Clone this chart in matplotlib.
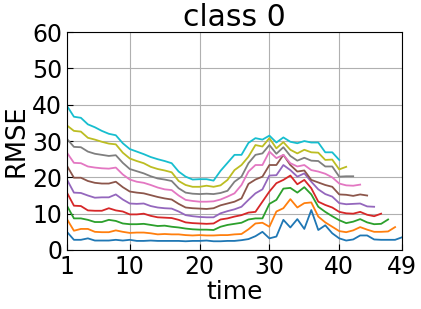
import numpy as np
import matplotlib
matplotlib.use('Agg')
import matplotlib.pyplot as plt

# RMSE per time step, one series per horizon (shorter horizons run longer)
rmse_blue = [5.0, 2.8, 2.8, 3.2, 2.6, 2.6, 2.6, 2.8, 2.6, 2.8, 2.5,
             2.5, 2.6, 2.5, 2.5, 2.5, 2.5, 2.4, 2.5, 2.5, 2.6,
             2.4, 2.4, 2.5, 2.5, 2.7, 3.0, 3.8, 5.0, 3.2,
             3.7, 8.3, 6.2, 8.5, 5.8, 11.0, 5.5, 6.8, 4.6, 3.2, 2.6, 2.9, 4.0, 4.0, 2.9, 2.8, 2.8, 2.8, 3.5]
rmse_orange = [8.5, 5.3, 5.8, 5.8, 5.0, 4.9, 4.9, 5.4, 5.0, 4.7, 4.8,
               4.8, 4.6, 4.3, 4.4, 4.3, 4.3, 4.1, 4.0, 4.1, 4.0,
               4.0, 4.1, 4.1, 4.3, 4.4, 5.7, 7.3, 7.5, 6.4,
               10.6, 11.5, 14.0, 11.7, 12.9, 13.1, 9.2, 7.6, 6.4, 5.2, 4.9, 5.4, 6.3, 5.6, 5.0, 5.0, 5.1, 6.3]
rmse_green = [12.2, 8.7, 8.7, 8.3, 7.7, 7.7, 8.3, 8.0, 7.3, 7.1, 7.1,
              7.2, 6.9, 6.6, 6.7, 6.4, 6.2, 5.9, 5.7, 5.6, 5.6,
              5.5, 6.4, 6.9, 7.2, 7.5, 8.4, 8.7, 8.7, 12.7,
              13.8, 16.9, 17.1, 15.8, 17.3, 15.3, 11.9, 10.5, 9.3, 8.2, 7.4, 7.8, 8.5, 7.6, 7.1, 7.2, 8.4]
rmse_red = [15.8, 12.2, 12.1, 10.9, 10.8, 10.8, 11.5, 10.9, 10.6, 9.8, 9.8,
            10.0, 9.4, 9.0, 8.9, 8.8, 8.3, 7.6, 7.4, 7.3, 7.2,
            7.3, 8.4, 8.7, 9.2, 9.6, 10.3, 10.5, 13.3, 16.1,
            18.4, 19.3, 20.5, 18.1, 19.3, 17.0, 13.3, 12.4, 11.7, 10.5, 10.1, 10.0, 10.5, 9.7, 9.3, 10.0]
rmse_purple = [19.4, 15.8, 15.7, 15.0, 14.4, 14.5, 14.5, 15.3, 13.9, 12.8, 12.7,
               12.8, 12.1, 11.7, 11.5, 11.4, 10.6, 9.6, 9.3, 9.1, 9.0,
               9.0, 10.1, 10.7, 11.2, 11.9, 13.8, 15.6, 16.7, 20.5,
               20.6, 23.4, 22.0, 20.2, 21.1, 18.8, 16.7, 15.4, 14.7, 12.9, 12.6, 12.7, 12.8, 12.0, 11.9]
rmse_brown = [23.2, 19.9, 19.9, 19.0, 18.5, 18.3, 18.3, 18.8, 17.3, 16.1, 15.8,
              15.6, 15.1, 14.6, 14.2, 13.9, 12.7, 11.7, 11.5, 11.4, 11.3,
              11.5, 12.3, 12.8, 13.3, 14.2, 18.2, 19.4, 20.2, 23.4,
              23.4, 26.2, 23.4, 21.6, 21.9, 19.3, 18.6, 17.9, 17.4, 15.3, 15.2, 14.9, 15.3, 15.0]
rmse_pink = [26.8, 24.0, 23.9, 23.0, 22.7, 22.5, 22.4, 22.7, 20.8, 19.4, 18.8,
             18.5, 17.9, 17.2, 16.7, 16.5, 15.0, 13.8, 13.5, 13.3, 13.3,
             13.4, 13.9, 14.7, 15.6, 17.9, 21.6, 23.4, 23.4, 27.1,
             25.3, 26.2, 23.9, 23.0, 23.4, 22.0, 21.6, 21.0, 20.0, 18.3, 17.8, 17.7, 18.0]
rmse_gray = [30.6, 28.4, 28.3, 27.1, 26.5, 26.2, 25.9, 26.1, 24.0, 22.3, 21.7,
             21.1, 20.3, 19.7, 19.4, 19.0, 17.0, 15.8, 15.5, 15.4, 15.5,
             15.4, 15.7, 16.3, 18.8, 20.2, 23.9, 26.2, 26.6, 28.9,
             26.5, 28.3, 25.9, 24.6, 25.4, 24.6, 24.5, 23.0, 23.0, 20.2, 20.3, 20.3]
rmse_olive = [34.3, 32.8, 32.6, 30.9, 30.4, 29.8, 29.3, 29.1, 26.8, 25.2, 24.5,
              23.9, 22.9, 22.3, 21.9, 21.4, 19.0, 17.9, 17.4, 17.4, 17.7,
              17.4, 17.8, 19.3, 22.0, 23.4, 25.7, 28.9, 28.5, 30.8,
              28.0, 29.7, 27.6, 26.6, 27.6, 26.9, 26.8, 24.8, 24.9, 22.2, 22.9]
rmse_cyan = [39.7, 36.7, 36.4, 34.6, 33.8, 32.8, 32.0, 31.6, 29.4, 27.8, 27.1,
             26.4, 25.6, 25.0, 24.5, 23.9, 21.6, 20.2, 19.4, 19.5, 19.5,
             19.1, 21.8, 24.0, 26.2, 26.2, 29.5, 30.8, 30.4, 31.5,
             29.6, 31.0, 29.8, 29.4, 30.0, 29.6, 29.6, 26.9, 26.9, 24.8]

series = [rmse_blue, rmse_orange, rmse_green, rmse_red, rmse_purple,
          rmse_brown, rmse_pink, rmse_gray, rmse_olive, rmse_cyan]

x_ticks = [1, 10, 20, 30, 40, 49]
y_ticks = [0, 10, 20, 30, 40, 50, 60]

fig = plt.figure(figsize=(4.21, 3.09), dpi=100)
ax = fig.add_axes([0.159, 0.191, 0.796, 0.705])

for s in series:
    t = np.arange(1, len(s) + 1)
    ax.plot(t, s, lw=1.3)

ax.set_xlim(1, 49)
ax.set_ylim(0, 60)
ax.set_xticks(x_ticks)
ax.set_yticks(y_ticks)
ax.grid(True, color='#b0b0b0', lw=0.8)
ax.tick_params(direction='in', labelsize=17, length=4, pad=3.5)
ax.set_xlabel('time', fontsize=18, labelpad=1)
ax.set_ylabel('RMSE', fontsize=18.5, labelpad=2)
ax.set_title('class 0', fontsize=21.5, pad=4)

fig.savefig('out.png', dpi=100)
